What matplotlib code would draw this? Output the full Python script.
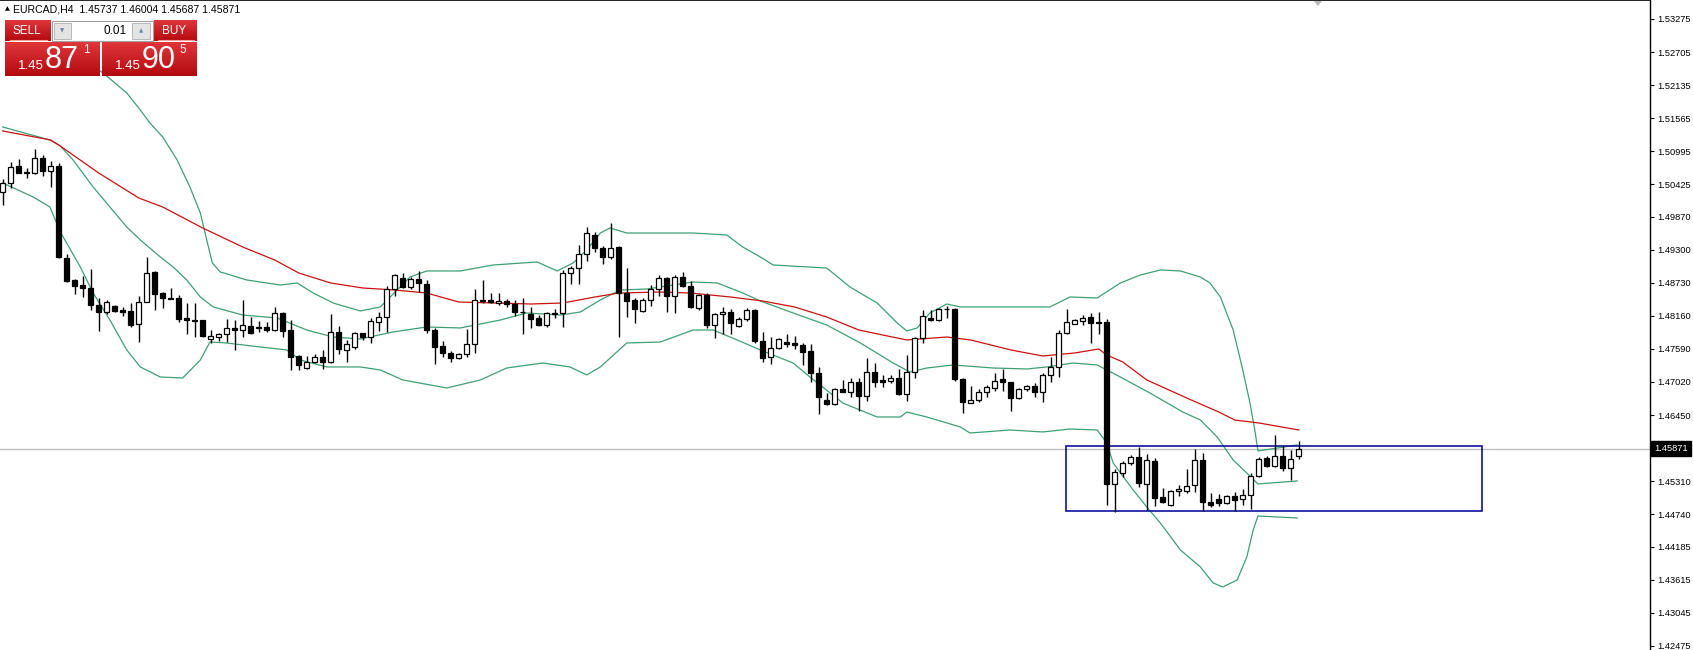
import numpy as np
import matplotlib
matplotlib.use("Agg")
import matplotlib.pyplot as plt
from matplotlib.patches import Rectangle, Polygon
from matplotlib.transforms import blended_transform_factory

plt.rcParams['font.family'] = ['Liberation Sans', 'DejaVu Sans']

# EURCAD H4 candles (oldest first)
opens = [1.50300, 1.50443, 1.50742, 1.50639, 1.50616, 1.50874, 1.50662, 1.50742, 1.49151, 1.48777,
         1.48691, 1.48634, 1.48347, 1.48232, 1.48330, 1.48261, 1.48244, 1.48014, 1.48404, 1.48921,
         1.48554, 1.48462, 1.48462, 1.48117, 1.48088, 1.48083, 1.47756, 1.47803, 1.47849, 1.47946,
         1.47912, 1.47992, 1.47963, 1.47975, 1.47916, 1.48215, 1.47917, 1.47470, 1.47257, 1.47372,
         1.47447, 1.47361, 1.47877, 1.47573, 1.47619, 1.47860, 1.47791, 1.48061, 1.48136, 1.48618,
         1.48807, 1.48652, 1.48790, 1.48709, 1.47917, 1.47642, 1.47516, 1.47431, 1.47498, 1.47671,
         1.48421, 1.48434, 1.48377, 1.48421, 1.48359, 1.48233, 1.48187, 1.48118, 1.48004, 1.48193,
         1.48204, 1.48905, 1.48979, 1.49220, 1.49553, 1.49324, 1.49180, 1.49353, 1.48549, 1.48434,
         1.48251, 1.48434, 1.48618, 1.48807, 1.48509, 1.48825, 1.48675, 1.48302, 1.48520, 1.48004,
         1.48188, 1.48222, 1.47986, 1.48101, 1.48262, 1.47728, 1.47458, 1.47602, 1.47705, 1.47688,
         1.47659, 1.47556, 1.47171, 1.46712, 1.46638, 1.46896, 1.46856, 1.47017, 1.46787, 1.47189,
         1.47057, 1.47045, 1.47085, 1.46816, 1.47189, 1.47774, 1.48130, 1.48090, 1.48273, 1.48278,
         1.47073, 1.46665, 1.46711, 1.46843, 1.46924, 1.47067, 1.47016, 1.46752, 1.46901, 1.46952,
         1.46855, 1.47142, 1.47285, 1.47859, 1.48020, 1.48078, 1.48135, 1.48049, 1.48049, 1.45258,
         1.45447, 1.45619, 1.45723, 1.45258, 1.45665, 1.45034, 1.44902, 1.45143, 1.45149, 1.45246,
         1.45677, 1.44948, 1.45005, 1.44931, 1.45057, 1.45000, 1.45074, 1.45407, 1.45706, 1.45579,
         1.45751, 1.45545, 1.45737]
highs = [1.50512, 1.50805, 1.50857, 1.50713, 1.51035, 1.50931, 1.50822, 1.50788, 1.49226, 1.48789,
         1.48846, 1.48967, 1.48462, 1.48433, 1.48347, 1.48318, 1.48376, 1.48508, 1.49168, 1.48932,
         1.48565, 1.48634, 1.48519, 1.48376, 1.48376, 1.48088, 1.47916, 1.47872, 1.48100, 1.48088,
         1.48433, 1.48146, 1.48077, 1.48049, 1.48307, 1.48232, 1.48090, 1.47487, 1.47470, 1.47504,
         1.47573, 1.48193, 1.47986, 1.47745, 1.47889, 1.47871, 1.48118, 1.48233, 1.48675, 1.48882,
         1.48905, 1.48836, 1.48939, 1.48778, 1.47946, 1.47734, 1.47562, 1.47516, 1.47929, 1.48618,
         1.48778, 1.48560, 1.48560, 1.48451, 1.48434, 1.48463, 1.48308, 1.48176, 1.48233, 1.48273,
         1.48951, 1.49019, 1.49381, 1.49685, 1.49599, 1.49364, 1.49754, 1.49364, 1.48979, 1.48463,
         1.48463, 1.48692, 1.48865, 1.48836, 1.48865, 1.48922, 1.48767, 1.48537, 1.48549, 1.48216,
         1.48319, 1.48273, 1.48147, 1.48291, 1.48273, 1.47889, 1.47803, 1.47786, 1.47843, 1.47814,
         1.47688, 1.47677, 1.47286, 1.46838, 1.46913, 1.47057, 1.47085, 1.47085, 1.47441, 1.47343,
         1.47143, 1.47143, 1.47240, 1.47487, 1.47803, 1.48262, 1.48261, 1.48301, 1.48330, 1.48290,
         1.47085, 1.46958, 1.46901, 1.46970, 1.47171, 1.47245, 1.47027, 1.46912, 1.46970, 1.46998,
         1.47171, 1.47446, 1.47917, 1.48273, 1.48100, 1.48175, 1.48204, 1.48221, 1.48100, 1.45522,
         1.45665, 1.45763, 1.45906, 1.45780, 1.45706, 1.45189, 1.45160, 1.45246, 1.45522, 1.45866,
         1.45803, 1.45103, 1.45086, 1.45074, 1.45120, 1.45172, 1.45459, 1.45723, 1.45746, 1.46107,
         1.45935, 1.45849, 1.46004]
lows = [1.50070, 1.50369, 1.50616, 1.50530, 1.50598, 1.50576, 1.50386, 1.49162, 1.48737, 1.48536,
        1.48491, 1.48261, 1.47905, 1.48186, 1.48232, 1.48163, 1.47963, 1.47715, 1.48393, 1.48261,
        1.48290, 1.48446, 1.48060, 1.47849, 1.47803, 1.47803, 1.47687, 1.47733, 1.47715, 1.47572,
        1.47803, 1.47849, 1.47878, 1.47889, 1.47899, 1.47803, 1.47229, 1.47229, 1.47246, 1.47343,
        1.47246, 1.47343, 1.47504, 1.47372, 1.47584, 1.47745, 1.47688, 1.47906, 1.47877, 1.48509,
        1.48635, 1.48618, 1.48578, 1.47860, 1.47332, 1.47458, 1.47372, 1.47412, 1.47447, 1.47516,
        1.48377, 1.48377, 1.48342, 1.48308, 1.48159, 1.47843, 1.47946, 1.47986, 1.47975, 1.48118,
        1.47975, 1.48704, 1.48704, 1.49111, 1.49255, 1.49054, 1.49140, 1.47803, 1.48136, 1.48032,
        1.48233, 1.48331, 1.48503, 1.48222, 1.48205, 1.48652, 1.48291, 1.48262, 1.47946, 1.47774,
        1.47849, 1.47849, 1.47975, 1.48073, 1.47688, 1.47372, 1.47326, 1.47585, 1.47631, 1.47585,
        1.47315, 1.47028, 1.46471, 1.46626, 1.46626, 1.46844, 1.46758, 1.46528, 1.46701, 1.46942,
        1.46942, 1.46999, 1.46798, 1.46701, 1.47085, 1.47688, 1.48078, 1.48078, 1.48118, 1.47039,
        1.46482, 1.46654, 1.46683, 1.46769, 1.46866, 1.46872, 1.46528, 1.46729, 1.46866, 1.46769,
        1.46683, 1.47016, 1.47102, 1.47848, 1.48014, 1.48003, 1.47687, 1.47848, 1.44903, 1.44776,
        1.45390, 1.45591, 1.45206, 1.44816, 1.44890, 1.44931, 1.44890, 1.45063, 1.45103, 1.45120,
        1.44799, 1.44862, 1.44890, 1.44919, 1.44799, 1.44902, 1.44833, 1.45390, 1.45551, 1.45562,
        1.45493, 1.45332, 1.45687]
closes = [1.50443, 1.50719, 1.50627, 1.50616, 1.50874, 1.50662, 1.50742, 1.49180, 1.48766, 1.48674,
          1.48634, 1.48347, 1.48232, 1.48393, 1.48244, 1.48221, 1.48003, 1.48404, 1.48892, 1.48531,
          1.48462, 1.48451, 1.48106, 1.48083, 1.48077, 1.47820, 1.47814, 1.47849, 1.47946, 1.47912,
          1.48003, 1.47860, 1.47952, 1.47916, 1.48204, 1.47905, 1.47458, 1.47315, 1.47372, 1.47458,
          1.47372, 1.47877, 1.47584, 1.47676, 1.47860, 1.47791, 1.48072, 1.48136, 1.48618, 1.48859,
          1.48652, 1.48796, 1.48721, 1.47917, 1.47630, 1.47516, 1.47431, 1.47498, 1.47671, 1.48434,
          1.48434, 1.48394, 1.48421, 1.48359, 1.48233, 1.48222, 1.48107, 1.48004, 1.48204, 1.48204,
          1.48905, 1.48979, 1.49220, 1.49582, 1.49324, 1.49180, 1.49324, 1.48549, 1.48423, 1.48273,
          1.48434, 1.48618, 1.48807, 1.48509, 1.48825, 1.48675, 1.48308, 1.48520, 1.48004, 1.48188,
          1.48222, 1.48032, 1.48101, 1.48262, 1.47728, 1.47441, 1.47602, 1.47763, 1.47677, 1.47659,
          1.47544, 1.47171, 1.46770, 1.46643, 1.46896, 1.46856, 1.47017, 1.46787, 1.47189, 1.47028,
          1.47028, 1.47085, 1.46816, 1.47189, 1.47774, 1.48159, 1.48090, 1.48279, 1.48278, 1.47067,
          1.46671, 1.46711, 1.46843, 1.46941, 1.47039, 1.47027, 1.46752, 1.46901, 1.46952, 1.46855,
          1.47142, 1.47285, 1.47859, 1.48049, 1.48089, 1.48129, 1.48043, 1.48043, 1.45265, 1.45464,
          1.45619, 1.45723, 1.45275, 1.45677, 1.45028, 1.44948, 1.45149, 1.45177, 1.45235, 1.45677,
          1.44959, 1.44902, 1.44931, 1.45057, 1.44988, 1.45074, 1.45407, 1.45688, 1.45579, 1.45751,
          1.45545, 1.45694, 1.45871]

# moving average (red), read as (bar index, price) points
ma_idx = [0, 6, 7, 12, 17, 20, 25, 30, 34, 37, 41, 45, 49, 53, 57, 66, 70, 74, 77, 82,
          86, 91, 95, 99, 103, 107, 113, 118, 121, 126, 130, 134, 137, 138, 140, 143, 148, 152, 154, 157, 162]
ma_val = [1.51345, 1.51190, 1.51104, 1.50621, 1.50191, 1.50035, 1.49673, 1.49346, 1.49122, 1.48898,
          1.48726, 1.48640, 1.48605, 1.48553, 1.48398, 1.48364, 1.48381, 1.48484, 1.48553, 1.48570,
          1.48553, 1.48484, 1.48415, 1.48312, 1.48140, 1.47916, 1.47744, 1.47795, 1.47744, 1.47572,
          1.47468, 1.47520, 1.47589, 1.47485, 1.47365, 1.47055, 1.46744, 1.46503, 1.46365, 1.46314, 1.46193]

# Bollinger bands (green)
upper_idx = [10.0, 13.3, 15.5, 17.2, 18.4, 20.0, 21.8, 23.4, 24.7, 25.5, 26.2, 27.2, 30.5, 34.7, 36.8,
             38.8, 41.3, 44.7, 47.2, 50.9, 53.0, 57.2, 61.3, 66.8, 69.3, 71.3, 73.0, 74.7, 75.9, 78.0,
             86.3, 90.5, 92.5, 94.7, 96.3, 103.0, 105.9, 109.3, 111.8, 113.0, 114.3, 115.9, 118.0, 119.7,
             130.9, 133.4, 136.8, 139.7, 142.2, 144.7, 147.2, 149.7, 150.9, 152.2, 153.8, 155.0, 155.9,
             156.5, 156.9, 161.8]
upper_val = [1.52620, 1.52258, 1.52000, 1.51707, 1.51483, 1.51242, 1.50845, 1.50380, 1.49932, 1.49467,
             1.49071, 1.48916, 1.48778, 1.48691, 1.48726, 1.48554, 1.48381, 1.48244, 1.48313, 1.48829,
             1.48933, 1.48933, 1.49036, 1.49088, 1.48933, 1.49071, 1.49295, 1.49587, 1.49674, 1.49587,
             1.49587, 1.49553, 1.49346, 1.49174, 1.49036, 1.48984, 1.48657, 1.48381, 1.48037, 1.47899,
             1.47951, 1.48209, 1.48364, 1.48313, 1.48313, 1.48485, 1.48467, 1.48726, 1.48864, 1.48950,
             1.48933, 1.48829, 1.48726, 1.48485, 1.47916, 1.47227, 1.46658, 1.46193, 1.45831, 1.45935]
mid_idx = [0.0, 5.9, 7.2, 8.8, 11.3, 13.4, 15.5, 17.2, 19.7, 21.3, 23.0, 24.7, 26.3, 30.0, 34.3, 38.0,
           41.3, 44.7, 48.8, 53.0, 57.2, 62.2, 65.5, 69.7, 72.2, 74.7, 77.2, 80.5, 86.3, 89.3, 92.5,
           94.7, 98.8, 103.0, 107.2, 111.3, 113.4, 115.5, 118.8, 123.8, 128.0, 130.5, 133.8, 136.8,
           138.0, 139.7, 143.4, 147.5, 149.7, 151.8, 153.8, 155.5, 156.9, 161.8]
mid_val = [1.51414, 1.51190, 1.51086, 1.50845, 1.50380, 1.50035, 1.49691, 1.49467, 1.49174, 1.49002,
           1.48778, 1.48485, 1.48313, 1.48174, 1.48123, 1.47916, 1.47795, 1.47761, 1.47882, 1.47968,
           1.47951, 1.48088, 1.48209, 1.48174, 1.48226, 1.48433, 1.48605, 1.48622, 1.48743, 1.48726,
           1.48554, 1.48416, 1.48209, 1.48002, 1.47692, 1.47347, 1.47192, 1.47261, 1.47313, 1.47261,
           1.47244, 1.47279, 1.47347, 1.47313, 1.47227, 1.47106, 1.46830, 1.46503, 1.46365, 1.46072,
           1.45676, 1.45452, 1.45263, 1.45315]
lower_idx = [0.0, 3.8, 5.9, 7.2, 9.7, 11.3, 13.4, 15.5, 17.2, 19.7, 22.5, 24.7, 25.9, 28.0, 32.2, 35.5,
             37.2, 40.5, 44.7, 47.2, 50.0, 55.5, 59.7, 63.0, 67.5, 70.9, 73.0, 74.7, 78.0, 82.2, 86.3,
             88.8, 91.8, 94.7, 98.8, 100.9, 105.0, 109.3, 112.2, 113.0, 115.5, 119.7, 120.9, 125.9,
             130.0, 133.4, 136.8, 138.0, 138.8, 141.3, 143.0, 144.7, 147.2, 149.7, 151.3, 152.5, 154.3,
             155.5, 156.3, 156.9, 161.8]
lower_val = [1.50449, 1.50208, 1.50035, 1.49605, 1.49002, 1.48554, 1.48088, 1.47572, 1.47279, 1.47106,
             1.47089, 1.47399, 1.47709, 1.47692, 1.47623, 1.47572, 1.47399, 1.47279, 1.47279, 1.47227,
             1.47055, 1.46917, 1.47055, 1.47261, 1.47347, 1.47279, 1.47141, 1.47279, 1.47692, 1.47709,
             1.47916, 1.47916, 1.47744, 1.47572, 1.47347, 1.47106, 1.46658, 1.46417, 1.46417, 1.46503,
             1.46417, 1.46245, 1.46141, 1.46193, 1.46159, 1.46210, 1.46193, 1.45969, 1.45625, 1.45159,
             1.44866, 1.44590, 1.44126, 1.43833, 1.43557, 1.43488, 1.43609, 1.44005, 1.44470, 1.44711,
             1.44677]

price_ticks = [1.53275, 1.52705, 1.52135, 1.51565, 1.50995, 1.50425, 1.49870, 1.49300, 1.48730,
               1.48160, 1.47590, 1.47020, 1.46450, 1.45310, 1.44740, 1.44185, 1.43615, 1.43045, 1.42475]

symbol = "EURCAD,H4"
bid = "1.45871"
ask = "1.45905"
lot = "0.01"

# range box drawn on the chart (bar index / price)
box_x0, box_x1 = 132.9, 184.9
box_lo, box_hi = 1.44797, 1.45917

W, H = 1693, 650
fig = plt.figure(figsize=(W / 100, H / 100), dpi=100)
fig.patch.set_facecolor('white')
ax = fig.add_axes([0, 0, 1650 / W, 1])
ax.set_xlim(-0.34, 205.9)
ax.set_ylim(1.42402, 1.53602)

n = len(opens)
x = np.arange(n)
o = np.array(opens)
c = np.array(closes)

green = '#3f9f75'
ax.plot(upper_idx, upper_val, color=green, lw=0.9, zorder=2)
ax.plot(mid_idx, mid_val, color=green, lw=0.9, zorder=2)
ax.plot(lower_idx, lower_val, color=green, lw=0.9, zorder=2)
ax.plot(ma_idx, ma_val, color='#cc1010', lw=0.9, zorder=2)

ax.axhline(float(bid), color='#c0c0c0', lw=1.0, zorder=1)
ax.add_patch(Rectangle((box_x0, box_lo), box_x1 - box_x0, box_hi - box_lo,
                       fill=False, edgecolor='#1010a0', lw=1.2, zorder=3))

# candles
ax.vlines(x, lows, highs, color='black', lw=1.0, zorder=4)
up = c >= o
body_lo = np.minimum(o, c)
body_h = np.maximum(np.abs(c - o), 0.00001)
ax.bar(x[up], body_h[up], bottom=body_lo[up], width=0.62, facecolor='white',
       edgecolor='black', linewidth=0.9, zorder=5)
ax.bar(x[~up], body_h[~up], bottom=body_lo[~up], width=0.62, facecolor='black',
       edgecolor='black', linewidth=0.9, zorder=5)

for side in ['left', 'bottom']:
    ax.spines[side].set_visible(False)
ax.spines['top'].set_linewidth(1.2)
ax.spines['right'].set_linewidth(1.0)
ax.set_xticks([])
ax.yaxis.tick_right()
ax.set_yticks(price_ticks)
ax.set_yticklabels([f"{v:.5f}" for v in price_ticks])
ax.tick_params(axis='y', direction='out', length=3, width=0.8, pad=2, labelsize=6.7)

# current price box on the scale
tr = blended_transform_factory(ax.transAxes, ax.transData)
ax.text(1.0025, float(bid), bid, transform=tr, ha='left', va='center', color='white',
        fontsize=6.7, clip_on=False, zorder=10,
        bbox=dict(boxstyle='square,pad=0.3', facecolor='black', edgecolor='black'))

# overlay in pixel coordinates for the trading panel
ov = fig.add_axes([0, 0, 1, 1], zorder=20)
ov.set_xlim(0, W)
ov.set_ylim(H, 0)
ov.axis('off')
ov.patch.set_alpha(0)


def red_block(x0, y0, x1, y1, top='#e0363a', bottom='#b30a10'):
    grad = np.linspace(0, 1, 32).reshape(-1, 1)
    cmap = matplotlib.colors.LinearSegmentedColormap.from_list('r', [top, bottom])
    ov.imshow(grad, cmap=cmap, extent=(x0, x1, y1, y0), origin='upper', aspect='auto',
              interpolation='bilinear', zorder=21)


red_block(5, 20, 51, 41)
red_block(154, 20, 197, 41)
red_block(5, 42, 100, 76)
red_block(102, 42, 197, 76)
ov.add_patch(Rectangle((52, 21), 101, 20, facecolor='white', edgecolor='#a0a0a0', lw=0.8, zorder=22))
ov.add_patch(Rectangle((54, 23), 17, 16, facecolor='#e4e4e4', edgecolor='#b0b0b0', lw=0.6, zorder=23))
ov.add_patch(Rectangle((132, 23), 18, 16, facecolor='#e4e4e4', edgecolor='#b0b0b0', lw=0.6, zorder=23))
ov.text(62.5, 31, '▼', fontsize=4, color='#6a8aaa', ha='center', va='center', zorder=24,
        family='DejaVu Sans')
ov.text(141, 31, '▲', fontsize=4, color='#6a8aaa', ha='center', va='center', zorder=24,
        family='DejaVu Sans')
ov.text(127, 31, lot, fontsize=8.5, color='black', ha='right', va='center', zorder=24)
ov.plot([10, 47], [40, 40], color='#f0a0a0', lw=0.8, zorder=24)
ov.plot([158, 194], [40, 40], color='#f0a0a0', lw=0.8, zorder=24)
ov.text(27, 31, 'SELL', fontsize=8.5, color='white', ha='center', va='center', zorder=24)
ov.text(174, 31, 'BUY', fontsize=8.5, color='white', ha='center', va='center', zorder=24)

for px, price in [(0, bid), (97, ask)]:
    ov.text(31 + px, 66, price[:4], fontsize=9.5, color='white', ha='center', va='center', zorder=24)
    ov.text(62 + px, 60, price[4:6], fontsize=22, color='white', ha='center', va='center', zorder=24)
    ov.text(86 + px, 50, price[6], fontsize=8.5, color='white', ha='center', va='center', zorder=24)

# header line
ov.text(7.5, 9, '▲', fontsize=4.5, color='black', ha='center', va='center', family='DejaVu Sans', zorder=24)
ov.text(13, 9, f"{symbol}  {opens[-1]:.5f} {highs[-1]:.5f} {lows[-1]:.5f} {closes[-1]:.5f}",
        fontsize=7.6, color='black', ha='left', va='center', zorder=24)

# chart shift marker
ov.add_patch(Polygon([[1314, 1], [1322, 1], [1318, 6]], closed=True, facecolor='#b8b8b8',
                     edgecolor='none', zorder=24))

fig.savefig('out.png', dpi=100, facecolor='white')
